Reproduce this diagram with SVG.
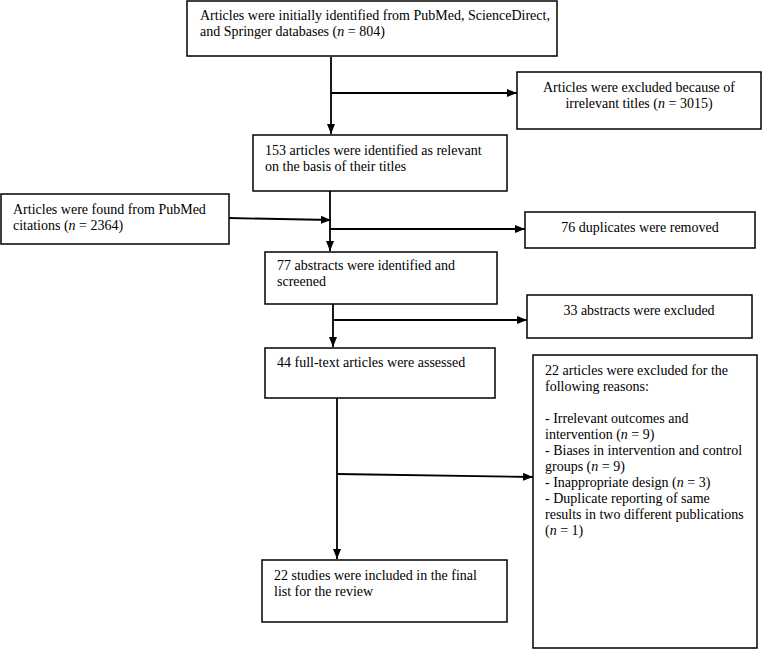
<svg xmlns="http://www.w3.org/2000/svg" width="763" height="650" viewBox="0 0 763 650">
<defs>
<marker id="ah" markerWidth="10" markerHeight="8" refX="10" refY="4" orient="auto" markerUnits="userSpaceOnUse">
<path d="M0,0 L10,4 L0,8 Z" fill="#000"/>
</marker>
<style>
.box{fill:#fff;stroke:#000;stroke-width:1.5}
text{font-family:"Liberation Serif","Times New Roman",serif;font-size:14px;fill:#000}
.c{text-anchor:middle}
.i{font-style:italic}
.ln{fill:none;stroke:#000;stroke-width:1.8}
.ar{fill:none;stroke:#000;stroke-width:1.8;marker-end:url(#ah)}
</style>
</defs>
<rect width="763" height="650" fill="#fff"/>
<g id="connectors">
<line class="ar" x1="331" y1="57" x2="331" y2="134"/>
<line class="ar" x1="331" y1="93" x2="517" y2="93"/>
<line class="ar" x1="330" y1="191" x2="330" y2="251"/>
<line class="ar" x1="229" y1="218" x2="331" y2="220"/>
<line class="ar" x1="330" y1="229" x2="525" y2="229"/>
<line class="ar" x1="333" y1="304" x2="333" y2="347"/>
<line class="ar" x1="333" y1="320" x2="527" y2="320"/>
<line class="ar" x1="337" y1="398" x2="337" y2="559"/>
<line class="ar" x1="337" y1="474" x2="533" y2="477"/>
</g>
<g id="n1">
<rect class="box" x="187" y="1" width="370" height="55"/>
<text x="200" y="20">Articles were initially identified from PubMed, ScienceDirect,</text>
<text x="200" y="36">and Springer databases (<tspan class="i">n</tspan> = 804)</text>
</g>
<g id="n2">
<rect class="box" x="517" y="72" width="244" height="57"/>
<text class="c" x="639" y="92">Articles were excluded because of</text>
<text class="c" x="639" y="108">irrelevant titles (<tspan class="i">n</tspan> = 3015)</text>
</g>
<g id="n3">
<rect class="box" x="253" y="135" width="254" height="56"/>
<text x="265" y="155">153 articles were identified as relevant</text>
<text x="265" y="171">on the basis of their titles</text>
</g>
<g id="n4">
<rect class="box" x="1" y="194" width="228" height="50"/>
<text x="13" y="214">Articles were found from PubMed</text>
<text x="13" y="230">citations (<tspan class="i">n</tspan> = 2364)</text>
</g>
<g id="n5">
<rect class="box" x="525" y="212" width="230" height="36"/>
<text class="c" x="640" y="232">76 duplicates were removed</text>
</g>
<g id="n6">
<rect class="box" x="265" y="252" width="232" height="52"/>
<text x="277" y="270">77 abstracts were identified and</text>
<text x="277" y="286">screened</text>
</g>
<g id="n7">
<rect class="box" x="527" y="295" width="225" height="43"/>
<text class="c" x="639" y="315">33 abstracts were excluded</text>
</g>
<g id="n8">
<rect class="box" x="265" y="348" width="230" height="50"/>
<text x="277" y="367">44 full-text articles were assessed</text>
</g>
<g id="n9">
<rect class="box" x="533" y="355" width="224" height="293"/>
<text x="545" y="375">22 articles were excluded for the</text>
<text x="545" y="391">following reasons:</text>
<text x="545" y="423">- Irrelevant outcomes and</text>
<text x="545" y="439">intervention (<tspan class="i">n</tspan> = 9)</text>
<text x="545" y="455">- Biases in intervention and control</text>
<text x="545" y="471">groups (<tspan class="i">n</tspan> = 9)</text>
<text x="545" y="487">- Inappropriate design (<tspan class="i">n</tspan> = 3)</text>
<text x="545" y="503">- Duplicate reporting of same</text>
<text x="545" y="519">results in two different publications</text>
<text x="545" y="535">(<tspan class="i">n</tspan> = 1)</text>
</g>
<g id="n10">
<rect class="box" x="262" y="560" width="245" height="62"/>
<text x="274" y="580">22 studies were included in the final</text>
<text x="274" y="596">list for the review</text>
</g>
</svg>
